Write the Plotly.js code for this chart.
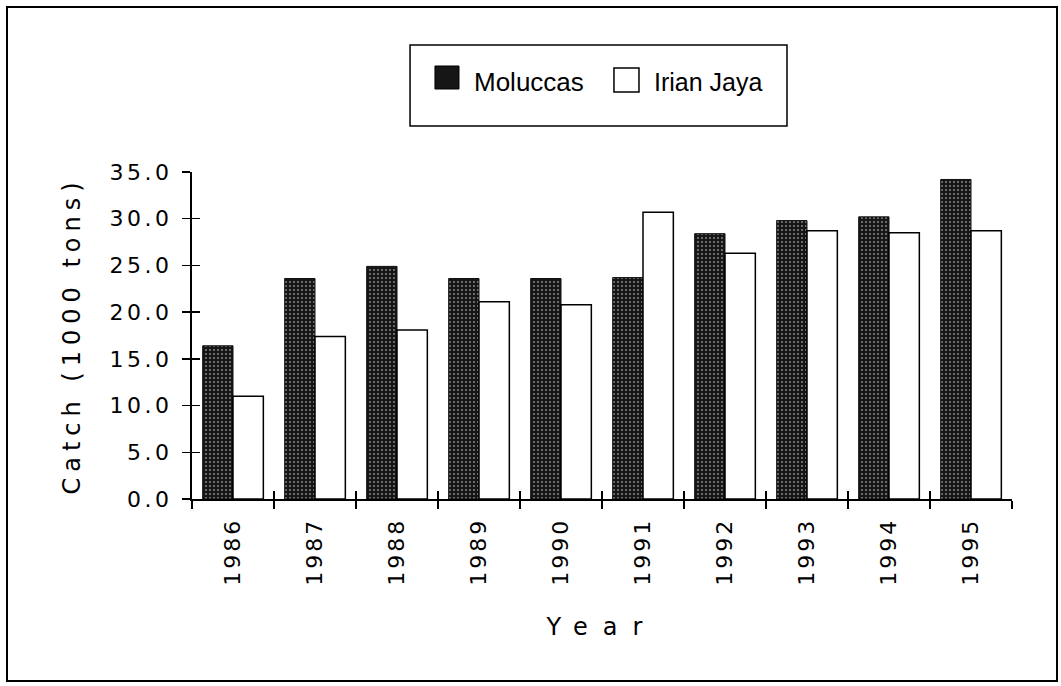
<!DOCTYPE html>
<html>
<head>
<meta charset="utf-8">
<script src="https://cdn.plot.ly/plotly-3.0.1.min.js"></script>
<style>
html, body { margin: 0; padding: 0; background: #fff; }
#chart { width: 1061px; height: 686px; }
.ytitle { letter-spacing: 6px; }
.xtitle { letter-spacing: 15px; }
.ytick text { letter-spacing: 3.5px; }
.xtick text { letter-spacing: 3px; }
</style>
</head>
<body>
<div id="chart"></div>
<script>
const years = ["1986","1987","1988","1989","1990","1991","1992","1993","1994","1995"];
const moluccas = [16.4, 23.6, 24.9, 23.6, 23.6, 23.7, 28.4, 29.8, 30.2, 34.2];
const irianJaya = [11.0, 17.4, 18.1, 21.1, 20.8, 30.7, 26.3, 28.7, 28.5, 28.7];
const yTicks = [0, 5, 10, 15, 20, 25, 30, 35];
const seriesNames = ["Moluccas", "Irian Jaya"];

const numFont = "DejaVu Sans, Verdana, sans-serif";
const legFont = "Liberation Sans, Arial, sans-serif";
const darkFill = "#161616";

// category boundaries, for the inner half of the crossing ticks
const boundaries = years.map((_, i) => i - 0.5).concat([years.length - 0.5]);

const traces = [
  {
    type: "bar", name: seriesNames[0], x: years, y: moluccas, showlegend: false,
    marker: {
      color: darkFill,
      line: { color: "#111", width: 1 },
      pattern: { shape: ".", fgcolor: "#8c8c8c", bgcolor: darkFill, size: 4, solidity: 0.18 }
    }
  },
  {
    type: "bar", name: seriesNames[1], x: years, y: irianJaya, showlegend: false,
    marker: { color: "#ffffff", line: { color: "#000", width: 1.5 } }
  },
  {
    type: "scatter", mode: "markers", x: [0], y: [0], xaxis: "x2", yaxis: "y2",
    marker: { opacity: 0, size: 1 }, showlegend: false, hoverinfo: "skip"
  }
];

const layout = {
  width: 1061, height: 686,
  margin: { l: 192, r: 49, t: 172, b: 187 },
  paper_bgcolor: "#fff", plot_bgcolor: "#fff",
  font: { family: numFont, color: "#000", size: 22 },
  barmode: "group", bargap: 0.26, bargroupgap: 0,
  showlegend: false,
  xaxis: {
    type: "category", tickson: "boundaries", ticks: "outside", ticklen: 8, tickwidth: 1.5,
    tickcolor: "#000", showline: true, linecolor: "#000", linewidth: 2,
    tickangle: -90, tickfont: { size: 22, family: numFont }, showgrid: false,
    ticklabelstandoff: 8, automargin: false,
    title: { text: "Year", font: { size: 24, family: numFont }, standoff: 33 }
  },
  xaxis2: {
    overlaying: "x", anchor: "y", range: [-0.5, years.length - 0.5], tickvals: boundaries,
    ticks: "inside", ticklen: 8, tickwidth: 1.5, tickcolor: "#000", layer: "above traces",
    showticklabels: false, showline: false, showgrid: false, zeroline: false, side: "bottom"
  },
  yaxis: {
    range: [0, 35], tickvals: yTicks, tickformat: ".1f", ticks: "outside", ticklen: 8,
    tickwidth: 1.5, tickcolor: "#000", showline: true, linecolor: "#000", linewidth: 2,
    showgrid: false, zeroline: false, tickfont: { size: 22, family: numFont },
    ticklabelstandoff: 5, automargin: false,
    title: { text: "Catch (1000 tons)", font: { size: 24, family: numFont }, standoff: 22 }
  },
  yaxis2: {
    overlaying: "y", anchor: "x", range: [0, 35], tickvals: yTicks,
    ticks: "inside", ticklen: 8, tickwidth: 1.5, tickcolor: "#000", layer: "above traces",
    showticklabels: false, showline: false, showgrid: false, zeroline: false, side: "left"
  },
  shapes: [
    { type: "rect", xref: "paper", yref: "paper", x0: 0.2659, x1: 0.7256, y0: 1.1407, y1: 1.3884,
      line: { color: "#000", width: 1.5 }, fillcolor: "rgba(0,0,0,0)" },
    { type: "rect", xref: "paper", yref: "paper", x0: 0.2963, x1: 0.3256, y0: 1.2538, y1: 1.3242,
      line: { color: "#000", width: 1 }, fillcolor: darkFill },
    { type: "rect", xref: "paper", yref: "paper", x0: 0.5146, x1: 0.5451, y0: 1.2446, y1: 1.3180,
      line: { color: "#000", width: 1.5 }, fillcolor: "#fff" },
    { type: "rect", xref: "paper", yref: "paper", x0: -0.2256, x1: 1.0549, y0: -0.5566, y1: 1.5046,
      line: { color: "#000", width: 2 }, fillcolor: "rgba(0,0,0,0)" }
  ],
  annotations: [
    { xref: "paper", yref: "paper", x: 0.3415, y: 1.2752, xanchor: "left", yanchor: "middle",
      text: seriesNames[0], showarrow: false, font: { family: legFont, size: 26, color: "#000" } },
    { xref: "paper", yref: "paper", x: 0.5610, y: 1.2752, xanchor: "left", yanchor: "middle",
      text: seriesNames[1], showarrow: false, font: { family: legFont, size: 25, color: "#000" } }
  ]
};

Plotly.newPlot("chart", traces, layout, { displayModeBar: false, staticPlot: true });
</script>
</body>
</html>
